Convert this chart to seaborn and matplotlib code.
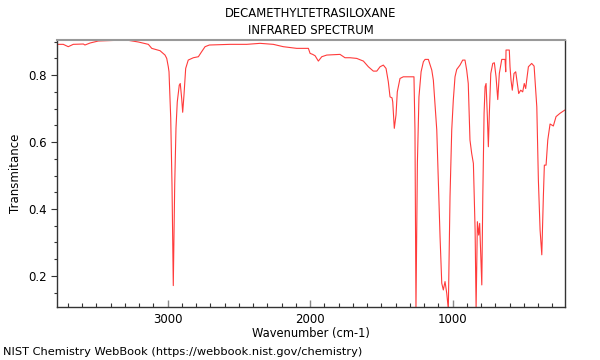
import matplotlib
matplotlib.use("Agg")
import matplotlib.pyplot as plt
from matplotlib.ticker import MultipleLocator
import seaborn as sns
import pandas as pd

sns.set_style("ticks")
plt.rcParams['font.family'] = ['DejaVu Sans']
plt.rcParams['text.color'] = 'black'
plt.rcParams['axes.labelcolor'] = 'black'
plt.rcParams['xtick.labelcolor'] = 'black'
plt.rcParams['ytick.labelcolor'] = 'black'

title_lines = ["DECAMETHYLTETRASILOXANE", "INFRARED SPECTRUM"]
x_label = "Wavenumber (cm-1)"
y_label = "Transmitance"
footer = "NIST Chemistry WebBook (https://webbook.nist.gov/chemistry)"

wavenumber = [
    3777, 3733, 3698, 3663, 3592, 3581, 3545, 3487, 3358, 3277, 3206, 3136, 3112,
    3054, 3019, 3007, 2996, 2991, 2979, 2970, 2961, 2951, 2942, 2933, 2919, 2912,
    2902, 2895, 2886, 2874, 2856, 2820, 2785, 2762, 2738, 2708, 2563, 2446, 2352,
    2259, 2189, 2095, 2013, 2001, 1983, 1966, 1943, 1919, 1884, 1791, 1756, 1721,
    1674, 1627, 1592, 1557, 1533, 1510, 1487, 1468, 1452, 1440, 1426, 1421, 1410,
    1398, 1389, 1370, 1347, 1272, 1265, 1258, 1248, 1237, 1222, 1206, 1194, 1171,
    1147, 1136, 1112, 1101, 1089, 1077, 1066, 1054, 1042, 1031, 1019, 1007, 996,
    984, 972, 949, 930, 914, 902, 891, 879, 867, 855, 843, 836, 827, 818, 811,
    803, 796, 789, 780, 773, 766, 757, 750, 743, 733, 719, 708, 696, 684, 673,
    656, 633, 628, 626, 603, 598, 591, 582, 570, 558, 547, 537, 523, 509, 498,
    488, 481, 469, 446, 429, 410, 399, 387, 375, 364, 357, 345, 333, 317, 294,
    275, 247, 212,
]
transmittance = [
    0.892, 0.892, 0.885, 0.892, 0.893, 0.890, 0.896, 0.902, 0.904, 0.904, 0.899, 0.892, 0.880,
    0.873, 0.860, 0.850, 0.825, 0.810, 0.672, 0.472, 0.171, 0.472, 0.642, 0.720, 0.770, 0.775,
    0.730, 0.689, 0.740, 0.820, 0.845, 0.852, 0.855, 0.870, 0.885, 0.890, 0.892, 0.892, 0.895,
    0.892, 0.885, 0.880, 0.880, 0.865, 0.862, 0.858, 0.842, 0.855, 0.860, 0.862, 0.852, 0.852,
    0.850, 0.842, 0.825, 0.812, 0.812, 0.825, 0.830, 0.820, 0.780, 0.735, 0.732, 0.720, 0.641,
    0.681, 0.750, 0.790, 0.795, 0.795, 0.636, 0.100, 0.537, 0.735, 0.810, 0.840, 0.847, 0.847,
    0.815, 0.785, 0.636, 0.487, 0.317, 0.178, 0.158, 0.183, 0.148, 0.100, 0.437, 0.636, 0.725,
    0.795, 0.817, 0.830, 0.845, 0.845, 0.815, 0.775, 0.606, 0.566, 0.536, 0.337, 0.100, 0.362, 0.322, 0.357,
    0.258, 0.173, 0.437, 0.686, 0.765, 0.775, 0.676, 0.586, 0.686, 0.805, 0.835, 0.837, 0.795, 0.727, 0.805,
    0.847, 0.847, 0.810, 0.875, 0.875, 0.825, 0.785, 0.755, 0.805, 0.810, 0.775, 0.745, 0.755, 0.750, 0.775,
    0.760, 0.785, 0.825, 0.835, 0.827, 0.705, 0.487, 0.337, 0.263, 0.437, 0.531, 0.531, 0.606, 0.654, 0.648,
    0.676, 0.686, 0.696,
]

df = pd.DataFrame({"wn": wavenumber, "T": transmittance})

fig = plt.figure(figsize=(6, 3.6), dpi=100)
ax = fig.add_axes([0.095, 0.1472, 0.8467, 0.7417])

sns.lineplot(data=df, x="wn", y="T", sort=False, estimator=None,
             color="#ff3b3b", linewidth=0.8, ax=ax)

ax.set_xlim(3777, 212)
ax.set_ylim(0.107, 0.905)
ax.xaxis.set_major_locator(MultipleLocator(1000))
ax.xaxis.set_minor_locator(MultipleLocator(100))
ax.yaxis.set_major_locator(MultipleLocator(0.2))
ax.yaxis.set_minor_locator(MultipleLocator(0.05))
ax.yaxis.set_major_formatter(plt.FuncFormatter(lambda v, p: f"{v:.1f}"))

ax.tick_params(axis="x", which="major", direction="in", length=5, width=1, color="#888888", labelsize=8.5, pad=4)
ax.tick_params(axis="x", which="minor", direction="in", length=3, width=0.8, color="#333333")
ax.tick_params(axis="y", which="major", direction="out", length=4, width=0.8, color="#333333", labelsize=8.5)
ax.tick_params(axis="y", which="minor", direction="out", length=2.5, width=0.8, color="#333333")

for side in ["left", "bottom", "right"]:
    ax.spines[side].set_visible(True)
    ax.spines[side].set_color("#333333")
    ax.spines[side].set_linewidth(1.0)
ax.spines["top"].set_visible(True)
ax.spines["top"].set_color("#999999")
ax.spines["top"].set_linewidth(1.5)

ax.set_xlabel(x_label, fontsize=8.3, labelpad=1)
ax.set_ylabel(y_label, fontsize=8.5, labelpad=4)

fig.text(0.518, 0.963, title_lines[0], ha="center", va="center", fontsize=8.4)
fig.text(0.518, 0.915, title_lines[1], ha="center", va="center", fontsize=8.4)
fig.text(0.005, 0.022, footer, ha="left", va="center", fontsize=8.2)

fig.savefig("out.png", dpi=100)
